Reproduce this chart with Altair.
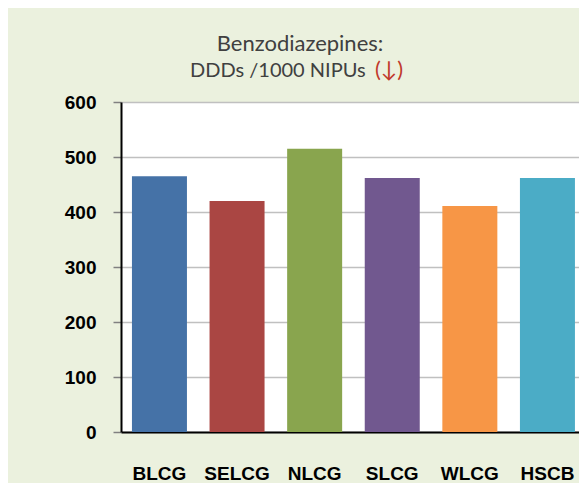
import altair as alt
import pandas as pd

groups = ["BLCG", "SELCG", "NLCG", "SLCG", "WLCG", "HSCB"]
values = [465, 420, 515, 462, 411, 462]
colors = ["#4572A7", "#AA4643", "#89A54E", "#71588F", "#F79646", "#4BACC6"]
y_ticks = [0, 100, 200, 300, 400, 500, 600]
title_line1 = "Benzodiazepines:"
title_line2 = "DDDs /1000 NIPUs"
title_arrow = "(↓)"

df = pd.DataFrame({"group": groups, "value": values})

bars = alt.Chart(df).mark_bar(size=55).encode(
    x=alt.X("group:N", sort=groups, title=None,
            scale=alt.Scale(paddingInner=0.291, paddingOuter=0.0966, align=0.73),
            axis=alt.Axis(labelAngle=0, labelFont="Liberation Sans", labelFontWeight="bold",
                          labelFontSize=19, labelColor="#000000", labelPadding=32,
                          tickSize=0, domainColor="#000000", domainWidth=2, grid=False)),
    y=alt.Y("value:Q", title=None,
            scale=alt.Scale(domain=[0, 600], nice=False),
            axis=alt.Axis(values=y_ticks, labelFont="Liberation Sans", labelFontWeight="bold",
                          labelFontSize=19, labelColor="#000000", labelPadding=17,
                          tickSize=8, tickColor="#808080", tickWidth=1.5,
                          domainColor="#000000", domainWidth=2,
                          grid=True, gridColor="#C0C0C0", gridWidth=1.5)),
    color=alt.Color("group:N", sort=groups,
                    scale=alt.Scale(domain=groups, range=colors), legend=None),
)

t1 = alt.Chart(pd.DataFrame({"t": [title_line1]})).mark_text(
    font="Lato", fontSize=22, color="#404040", align="center", baseline="alphabetic"
).encode(text="t:N", x=alt.value(179), y=alt.value(-51))

t2 = alt.Chart(pd.DataFrame({"t": [title_line2]})).mark_text(
    font="Lato", fontSize=20, color="#404040", align="left", baseline="alphabetic"
).encode(text="t:N", x=alt.value(69), y=alt.value(-25))

t3 = alt.Chart(pd.DataFrame({"t": [title_arrow]})).mark_text(
    font="Lato", fontSize=22, color="#C0392B", align="left", baseline="alphabetic"
).encode(text="t:N", x=alt.value(254), y=alt.value(-25))

chart = alt.layer(bars, t1, t2, t3).properties(
    width=458, height=330,
    autosize=alt.AutoSizeParams(type="none"),
    padding={"top": 94, "left": 113, "right": 0, "bottom": 51},
    background="#EBF1DE",
).configure_view(fill="#FFFFFF", stroke=None)

chart.save("out.html", embed_options={"renderer": "svg", "actions": False})
